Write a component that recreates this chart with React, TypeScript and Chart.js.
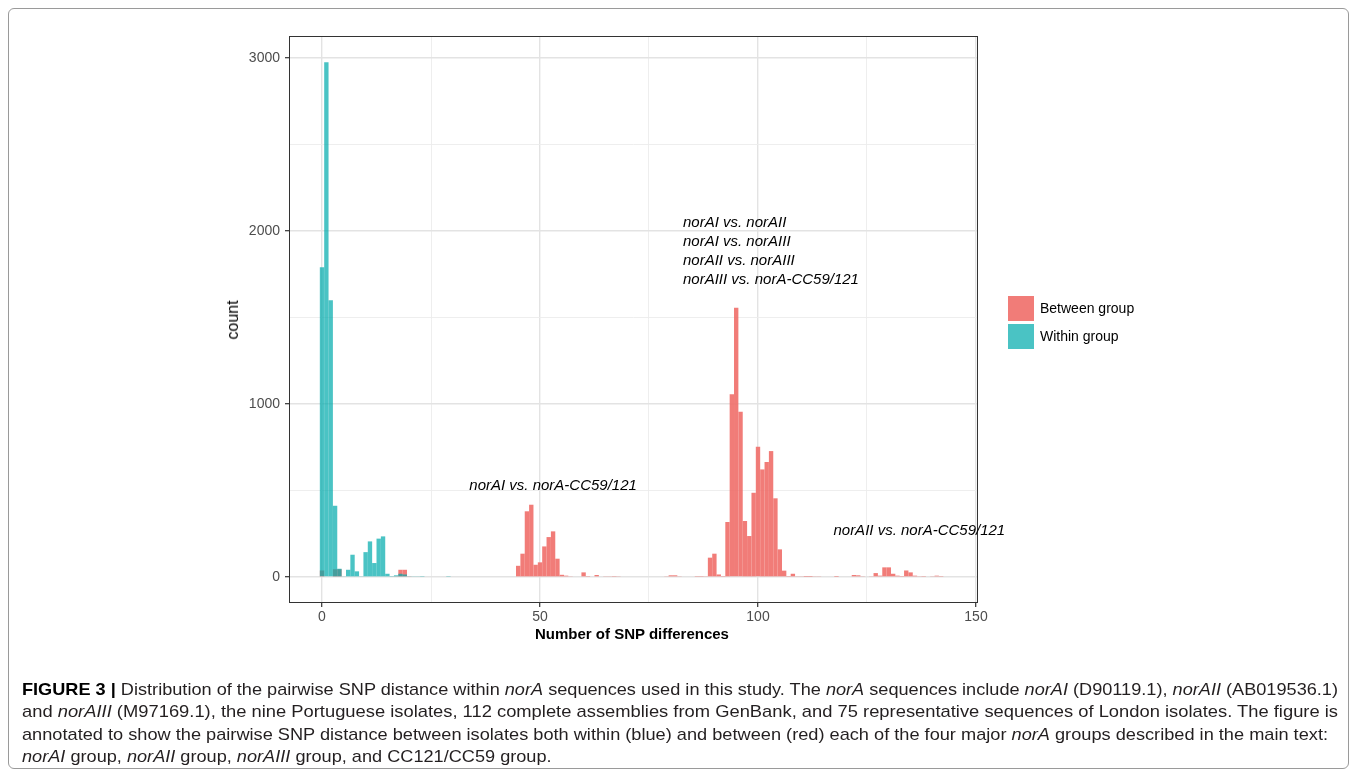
import React, { useEffect, useLayoutEffect, useRef } from "react";
import { Chart, registerables } from "chart.js";

Chart.register(...registerables);

// ---- data (histogram, binwidth 1, bins centred on integer SNP distances) ----
const withinBins = [0, 1, 2, 3, 4, 5, 6, 7, 8, 9, 10, 11, 12, 13, 14, 15, 16, 17, 18, 19, 20, 21, 22, 23, 29];
const withinCounts = [1790, 2975, 1600, 412, 48, 5, 42, 129, 33, 3, 144, 206, 81, 222, 235, 19, 2, 10, 19, 15, 5, 3, 3, 2, 6];

const betweenBins = [
  0, 3, 4, 17, 18, 19, 20,
  45, 46, 47, 48, 49, 50, 51, 52, 53, 54, 55, 56, 57,
  60, 61, 62, 63, 64, 65, 66, 67, 68,
  79, 80, 81, 82, 86, 87, 88,
  89, 90, 91, 92, 93, 94, 95, 96, 97, 98, 99, 100, 101, 102, 103, 104, 105, 106, 107, 108, 109, 110, 111, 112, 113, 114,
  118, 122, 123, 124,
  126, 127, 128, 129, 130, 131, 132, 133, 134, 135, 136, 137, 138,
  140, 141, 142,
];
const betweenCounts = [
  38, 45, 45, 5, 42, 42, 5,
  65, 135, 380, 418, 71, 85, 177, 231, 264, 106, 13, 8, 5,
  27, 2, 4, 12, 4, 3, 3, 2, 3,
  5, 10, 10, 3, 2, 2, 3,
  112, 135, 15, 6, 318, 1056, 1557, 956, 324, 237, 487, 753, 622, 665, 728, 455, 160, 37, 2, 19, 3, 3, 1, 1, 3, 3,
  1, 12, 10, 3,
  5, 23, 8, 56, 56, 19, 8, 2, 38, 27, 8, 3, 2,
  3, 8, 2,
];

const seriesLabels = ["Between group", "Within group"];
const xMajorTicks = [0, 50, 100, 150];
const xMinorTicks = [25, 75, 125];
const yMajorTicks = [0, 1000, 2000, 3000];
const yMinorTicks = [500, 1500, 2500];

const annotations = [
  { lines: ["norAI vs. norA-CC59/121"], x: 53, y: 526, align: "center" },
  {
    lines: ["norAI vs. norAII", "norAI vs. norAIII", "norAII vs. norAIII", "norAIII vs. norA-CC59/121"],
    x: 82.8,
    y: 2046,
    align: "left",
  },
  { lines: ["norAII vs. norA-CC59/121"], x: 137, y: 266, align: "center" },
];

const RED = "rgba(240,110,105,0.9)";
const TEAL = "rgba(0,170,172,0.71)";
const FONT = '"Liberation Sans", Arial, Helvetica, sans-serif';

const panelPlugin = {
  id: "panelPlugin",
  afterDatasetsDraw(chart: any) {
    const { ctx, chartArea, scales } = chart;
    const { left, top, right, bottom } = chartArea;
    ctx.save();
    ctx.strokeStyle = "#333333";
    ctx.lineWidth = 1;
    ctx.strokeRect(Math.round(left) + 0.5, Math.round(top) + 0.5, Math.round(right - left) - 1, Math.round(bottom - top) - 1);
    ctx.fillStyle = "#000000";
    ctx.font = `italic 15px ${FONT}`;
    ctx.textBaseline = "middle";
    for (const a of annotations) {
      ctx.textAlign = a.align as CanvasTextAlign;
      const px = scales.x.getPixelForValue(a.x);
      const py = scales.y.getPixelForValue(a.y);
      a.lines.forEach((t, i) => ctx.fillText(t, px, py + i * 19));
    }
    ctx.restore();
  },
};

const captionLines: { t: string; s?: "b" | "i" }[][] = [
  [
    { t: "FIGURE 3 | ", s: "b" },
    { t: "Distribution of the pairwise SNP distance within " },
    { t: "norA", s: "i" },
    { t: " sequences used in this study. The " },
    { t: "norA", s: "i" },
    { t: " sequences include " },
    { t: "norAI", s: "i" },
    { t: " (D90119.1), " },
    { t: "norAII", s: "i" },
    { t: " (AB019536.1)" },
  ],
  [
    { t: "and " },
    { t: "norAIII", s: "i" },
    { t: " (M97169.1), the nine Portuguese isolates, 112 complete assemblies from GenBank, and 75 representative sequences of London isolates. The figure is" },
  ],
  [
    { t: "annotated to show the pairwise SNP distance between isolates both within (blue) and between (red) each of the four major " },
    { t: "norA", s: "i" },
    { t: " groups described in the main text:" },
  ],
  [
    { t: "norAI", s: "i" },
    { t: " group, " },
    { t: "norAII", s: "i" },
    { t: " group, " },
    { t: "norAIII", s: "i" },
    { t: " group, and CC121/CC59 group." },
  ],
];
const captionTargets = [1316, 1316, 1306, 0];
const captionCenters = [690, 712, 735, 757];

export default function App() {
  const canvasRef = useRef<HTMLCanvasElement | null>(null);
  const capRefs = useRef<(HTMLSpanElement | null)[]>([]);

  useEffect(() => {
    const isMajor = (v: number, majors: number[]) => majors.includes(v);
    const chart = new Chart(canvasRef.current as HTMLCanvasElement, {
      type: "bar",
      data: {
        datasets: [
          {
            label: seriesLabels[0],
            data: betweenBins.map((b, i) => ({ x: b, y: betweenCounts[i] })),
            backgroundColor: RED,
            borderWidth: 0,
            order: 1,
            grouped: false,
            barPercentage: 1,
            categoryPercentage: 1,
            inflateAmount: 0,
          } as any,
          {
            label: seriesLabels[1],
            data: withinBins.map((b, i) => ({ x: b, y: withinCounts[i] })),
            backgroundColor: TEAL,
            borderWidth: 0,
            order: 0,
            grouped: false,
            barPercentage: 1,
            categoryPercentage: 1,
            inflateAmount: 0,
          } as any,
        ],
      },
      options: {
        animation: false,
        responsive: false,
        devicePixelRatio: 1,
        layout: { padding: { left: 200, right: 379, top: 36, bottom: 144 } },
        plugins: { legend: { display: false }, tooltip: { enabled: false } },
        scales: {
          x: {
            type: "linear",
            offset: false,
            min: -7.57,
            max: 150.46,
            afterBuildTicks: (scale: any) => {
              scale.ticks = [...xMajorTicks, ...xMinorTicks].sort((a, b) => a - b).map((v) => ({ value: v }));
            },
            afterFit: (scale: any) => {
              scale.height = 30;
            },
            ticks: {
              autoSkip: false,
              maxRotation: 0,
              padding: 2,
              color: "#4D4D4D",
              font: { family: FONT, size: 14 },
              callback: (v: any) => (isMajor(Number(v), xMajorTicks) ? String(v) : ""),
            },
            grid: {
              offset: false,
              color: (c: any) => (isMajor(c.tick?.value, xMajorTicks) ? "#E3E3E3" : "#ECECEC"),
              lineWidth: (c: any) => (isMajor(c.tick?.value, xMajorTicks) ? 1.4 : 0.9),
              tickColor: (c: any) => (isMajor(c.tick?.value, xMajorTicks) ? "#333333" : "rgba(0,0,0,0)"),
              tickLength: 4,
              tickWidth: 1.2,
            } as any,
            border: { display: false },
          },
          y: {
            type: "linear",
            min: -150,
            max: 3127,
            afterBuildTicks: (scale: any) => {
              scale.ticks = [...yMajorTicks, ...yMinorTicks].sort((a, b) => a - b).map((v) => ({ value: v }));
            },
            afterFit: (scale: any) => {
              scale.width = 89;
            },
            ticks: {
              autoSkip: false,
              padding: 5,
              color: "#4D4D4D",
              font: { family: FONT, size: 14 },
              callback: (v: any) => (isMajor(Number(v), yMajorTicks) ? String(v) : ""),
            },
            grid: {
              color: (c: any) => (isMajor(c.tick?.value, yMajorTicks) ? "#E3E3E3" : "#ECECEC"),
              lineWidth: (c: any) => (isMajor(c.tick?.value, yMajorTicks) ? 1.4 : 0.9),
              tickColor: (c: any) => (isMajor(c.tick?.value, yMajorTicks) ? "#333333" : "rgba(0,0,0,0)"),
              tickLength: 4,
              tickWidth: 1.2,
            } as any,
            border: { display: false },
          },
        },
      },
      plugins: [panelPlugin],
    });
    return () => chart.destroy();
  }, []);

  useLayoutEffect(() => {
    const els = capRefs.current;
    let firstScale = 1;
    els.forEach((el, i) => {
      if (!el) return;
      el.style.transform = "none";
      const w = el.getBoundingClientRect().width;
      const s = captionTargets[i] > 0 ? captionTargets[i] / w : firstScale;
      if (i === 0) firstScale = s;
      el.style.transform = `scaleX(${s})`;
    });
  }, []);

  return (
    <div
      style={{
        position: "absolute",
        left: 0,
        top: 0,
        width: 1357,
        height: 777,
        background: "#ffffff",
        overflow: "hidden",
        fontFamily: FONT,
      }}
    >
      <div
        style={{
          position: "absolute",
          left: 8,
          top: 8,
          width: 1339,
          height: 759,
          border: "1px solid #9a9a9a",
          borderRadius: 6,
        }}
      />
      <canvas
        ref={canvasRef}
        width={1357}
        height={777}
        style={{ position: "absolute", left: 0, top: 0, width: 1357, height: 777 }}
      />
      <div
        style={{
          position: "absolute",
          left: 233,
          top: 320,
          transform: "translate(-50%, -50%) rotate(-90deg)",
          fontSize: 16,
          color: "#000",
          whiteSpace: "nowrap",
        }}
      >
        count
      </div>
      <div
        style={{
          position: "absolute",
          left: 632,
          top: 633,
          transform: "translate(-50%, -50%)",
          fontSize: 15,
          fontWeight: "bold",
          color: "#000",
          whiteSpace: "nowrap",
        }}
      >
        Number of SNP differences
      </div>
      {seriesLabels.map((lab, i) => (
        <div key={lab}>
          <div
            style={{
              position: "absolute",
              left: 1008,
              top: 296 + i * 28,
              width: 26,
              height: 25,
              background: i === 0 ? RED : TEAL,
            }}
          />
          <div
            style={{
              position: "absolute",
              left: 1040,
              top: 308 + i * 28,
              transform: "translateY(-50%)",
              fontSize: 14,
              color: "#000",
              whiteSpace: "nowrap",
            }}
          >
            {lab}
          </div>
        </div>
      ))}
      {captionLines.map((line, i) => (
        <span
          key={i}
          ref={(el) => {
            capRefs.current[i] = el;
          }}
          style={{
            position: "absolute",
            left: 22,
            top: captionCenters[i] - 11,
            height: 22,
            lineHeight: "22px",
            display: "inline-block",
            whiteSpace: "nowrap",
            fontSize: 17,
            fontFamily: '"Liberation Sans Narrow", "Liberation Sans", Arial, sans-serif',
            color: "#231F20",
            transformOrigin: "left center",
          }}
        >
          {line.map((seg, j) =>
            seg.s === "b" ? (
              <b key={j} style={{ color: "#000" }}>{seg.t}</b>
            ) : seg.s === "i" ? (
              <i key={j}>{seg.t}</i>
            ) : (
              <span key={j}>{seg.t}</span>
            )
          )}
        </span>
      ))}
    </div>
  );
}
